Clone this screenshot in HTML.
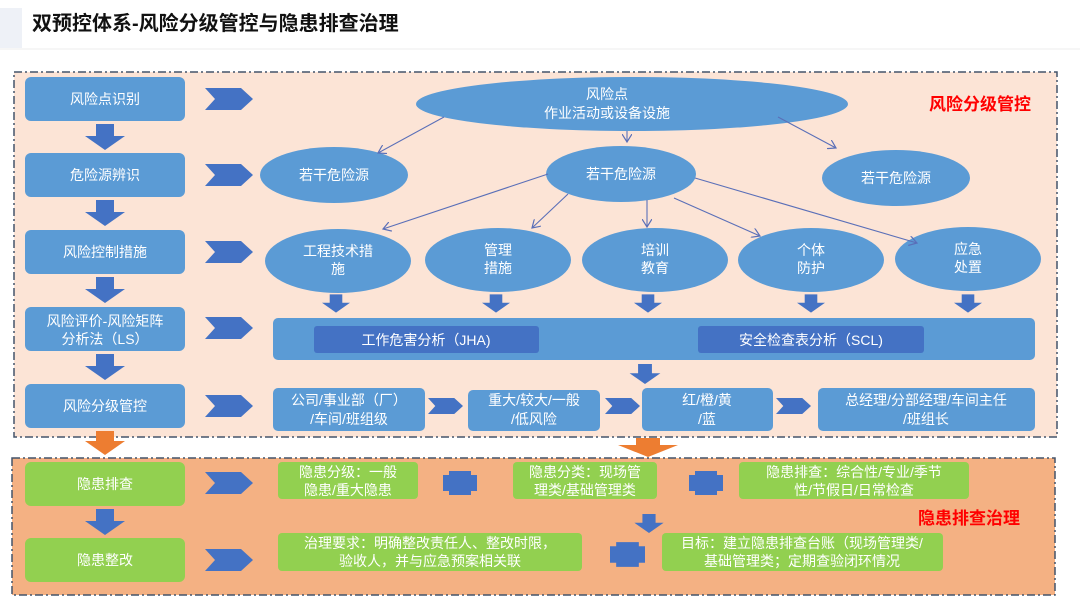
<!DOCTYPE html>
<html><head><meta charset="utf-8"><style>
html,body{margin:0;padding:0;background:#fff;}
svg text{font-family:"Liberation Sans","Noto Sans CJK SC",sans-serif;}
</style></head><body>
<svg width="1080" height="608" viewBox="0 0 1080 608" xmlns="http://www.w3.org/2000/svg">
<defs>
<marker id="ah" markerWidth="10" markerHeight="10" refX="8" refY="5" orient="auto" markerUnits="userSpaceOnUse"><path d="M0,0 L8,5 L0,10" fill="none" stroke="#5a6fb8" stroke-width="1.2"/></marker>
<symbol id="chev" viewBox="0 0 48 22"><path d="M0,0 H36 L48,11 L36,22 H0 L10,11 Z" fill="#4472c4"/></symbol>
<symbol id="down" viewBox="0 0 40 26"><path d="M11,0 H29 V12 H40 L20,26 L0,12 H11 Z" fill="#4472c4"/></symbol>
<symbol id="cross" viewBox="0 0 34 24"><path d="M6,0 H28 V4 H34 V20 H28 V24 H6 V20 H0 V4 H6 Z" fill="#4472c4"/></symbol>
</defs>
<rect x="0" y="8" width="22" height="40" fill="#eef1f7"/>
<line x1="0" y1="49" x2="1080" y2="49" stroke="#eeeeee" stroke-width="1"/>
<text x="32" y="30" font-size="20" font-weight="bold" fill="#111">双预控体系-风险分级管控与隐患排查治理</text>

<rect x="14" y="72" width="1043" height="365" fill="#fce4d6" stroke="#44546a" stroke-width="1.5" stroke-dasharray="8,3,2,3"/>
<rect x="12" y="458" width="1043" height="137" fill="#f4b183" stroke="#44546a" stroke-width="1.5" stroke-dasharray="8,3,2,3"/>

<g fill="#5b9bd5">
<rect x="25" y="77" width="160" height="44" rx="6"/>
<rect x="25" y="153" width="160" height="44" rx="6"/>
<rect x="25" y="230" width="160" height="44" rx="6"/>
<rect x="25" y="307" width="160" height="44" rx="6"/>
<rect x="25" y="384" width="160" height="44" rx="6"/>
</g>
<g fill="#92d050">
<rect x="25" y="462" width="160" height="44" rx="6"/>
<rect x="25" y="538" width="160" height="44" rx="6"/>
</g>
<g font-size="14" fill="#fff" text-anchor="middle">
<text x="105" y="104">风险点识别</text>
<text x="105" y="180">危险源辨识</text>
<text x="105" y="257">风险控制措施</text>
<text x="105" y="326">风险评价-风险矩阵</text>
<text x="105" y="344">分析法（LS）</text>
<text x="105" y="411">风险分级管控</text>
<text x="105" y="489">隐患排查</text>
<text x="105" y="565">隐患整改</text>
</g>
<g>
<use href="#down" x="85" y="124" width="40" height="26"/>
<use href="#down" x="85" y="200" width="40" height="26"/>
<use href="#down" x="85" y="277" width="40" height="26"/>
<use href="#down" x="85" y="354" width="40" height="26"/>
<use href="#down" x="85" y="509" width="40" height="26"/>
</g>
<path d="M96,431 H114 V441 H125 L105,455 L85,441 H96 Z" fill="#ed7d31"/>
<path d="M636,438 H660 V445 H678 L648,457 L618,445 H636 Z" fill="#ed7d31"/>
<g>
<use href="#chev" x="205" y="88" width="48" height="22"/>
<use href="#chev" x="205" y="164" width="48" height="22"/>
<use href="#chev" x="205" y="241" width="48" height="22"/>
<use href="#chev" x="205" y="317" width="48" height="22"/>
<use href="#chev" x="205" y="395" width="48" height="22"/>
<use href="#chev" x="205" y="472" width="48" height="22"/>
<use href="#chev" x="205" y="549" width="48" height="22"/>
<use href="#chev" x="428" y="395" width="35" height="22"/>
<use href="#chev" x="605" y="395" width="35" height="22"/>
<use href="#chev" x="776" y="395" width="35" height="22"/>
</g>

<g fill="#5b9bd5">
<ellipse cx="632" cy="104" rx="216" ry="27"/>
<ellipse cx="334" cy="175" rx="74" ry="28"/>
<ellipse cx="621" cy="174" rx="75" ry="28"/>
<ellipse cx="896" cy="178" rx="74" ry="28"/>
<ellipse cx="338" cy="261" rx="73" ry="32"/>
<ellipse cx="498" cy="260" rx="73" ry="32"/>
<ellipse cx="655" cy="260" rx="73" ry="32"/>
<ellipse cx="811" cy="260" rx="73" ry="32"/>
<ellipse cx="968" cy="259" rx="73" ry="32"/>
</g>
<g stroke="#5a6fb8" stroke-width="1.1" fill="none" marker-end="url(#ah)">
<line x1="444" y1="117" x2="378" y2="153"/>
<line x1="627" y1="131" x2="627" y2="142"/>
<line x1="778" y1="117" x2="836" y2="148"/>
<line x1="548" y1="174" x2="383" y2="229"/>
<line x1="568" y1="194" x2="532" y2="228"/>
<line x1="647" y1="200" x2="647" y2="227"/>
<line x1="674" y1="198" x2="760" y2="236"/>
<line x1="695" y1="178" x2="917" y2="243"/>
</g>
<g font-size="14" fill="#fff" text-anchor="middle">
<text x="607" y="99">风险点</text>
<text x="607" y="118">作业活动或设备设施</text>
<text x="334" y="180">若干危险源</text>
<text x="621" y="179">若干危险源</text>
<text x="896" y="183">若干危险源</text>
<text x="338" y="256">工程技术措</text><text x="338" y="274">施</text>
<text x="498" y="255">管理</text><text x="498" y="273">措施</text>
<text x="655" y="255">培训</text><text x="655" y="273">教育</text>
<text x="811" y="255">个体</text><text x="811" y="273">防护</text>
<text x="968" y="254">应急</text><text x="968" y="272">处置</text>
</g>
<g>
<use href="#down" x="322" y="294" width="28" height="19"/>
<use href="#down" x="482" y="294" width="28" height="19"/>
<use href="#down" x="634" y="294" width="28" height="19"/>
<use href="#down" x="797" y="294" width="28" height="19"/>
<use href="#down" x="954" y="294" width="28" height="19"/>
<use href="#down" x="612" y="364" width="66" height="20"/>
<use href="#down" x="617" y="514" width="64" height="19"/>
</g>
<rect x="273" y="318" width="762" height="42" rx="5" fill="#5b9bd5"/>
<rect x="314" y="326" width="225" height="27" rx="3" fill="#4472c4"/>
<rect x="698" y="326" width="226" height="27" rx="3" fill="#4472c4"/>
<g font-size="14" fill="#fff" text-anchor="middle">
<text x="426" y="345">工作危害分析（JHA)</text>
<text x="811" y="345">安全检查表分析（SCL)</text>
</g>
<g fill="#5b9bd5">
<rect x="273" y="388" width="152" height="43" rx="5"/>
<rect x="468" y="390" width="132" height="41" rx="5"/>
<rect x="642" y="388" width="131" height="43" rx="5"/>
<rect x="818" y="388" width="217" height="43" rx="5"/>
</g>
<g font-size="14" fill="#fff" text-anchor="middle">
<text x="349" y="405">公司/事业部（厂）</text><text x="349" y="424">/车间/班组级</text>
<text x="534" y="405">重大/较大/一般</text><text x="534" y="424">/低风险</text>
<text x="707" y="405">红/橙/黄</text><text x="707" y="424">/蓝</text>
<text x="926" y="405">总经理/分部经理/车间主任</text><text x="926" y="424">/班组长</text>
</g>

<g fill="#92d050">
<rect x="278" y="462" width="140" height="37" rx="4"/>
<rect x="513" y="462" width="144" height="37" rx="4"/>
<rect x="739" y="462" width="230" height="37" rx="4"/>
<rect x="278" y="533" width="304" height="38" rx="4"/>
<rect x="662" y="533" width="281" height="38" rx="4"/>
</g>
<use href="#cross" x="443" y="471" width="34" height="24"/>
<use href="#cross" x="689" y="471" width="34" height="24"/>
<use href="#cross" x="610" y="542" width="35" height="25"/>
<g font-size="14" fill="#fff" text-anchor="middle">
<text x="348" y="477">隐患分级：一般</text><text x="348" y="495">隐患/重大隐患</text>
<text x="585" y="477">隐患分类：现场管</text><text x="585" y="495">理类/基础管理类</text>
<text x="854" y="477">隐患排查：综合性/专业/季节</text><text x="854" y="495">性/节假日/日常检查</text>
<text x="430" y="548">治理要求：明确整改责任人、整改时限，</text><text x="430" y="566">验收人，并与应急预案相关联</text>
<text x="802" y="548">目标：建立隐患排查台账（现场管理类/</text><text x="802" y="566">基础管理类；定期查验闭环情况</text>
</g>
<g font-size="17" font-weight="bold" fill="#ff0000">
<text x="929" y="110">风险分级管控</text>
<text x="918" y="524">隐患排查治理</text>
</g>
</svg>
</body></html>
